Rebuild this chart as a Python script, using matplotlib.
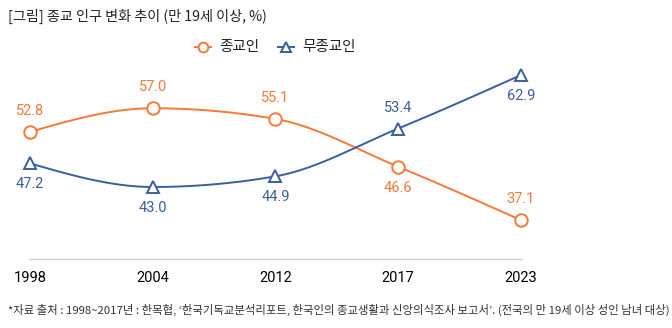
import numpy as np
import matplotlib
matplotlib.use("Agg")
import matplotlib.pyplot as plt

plt.rcParams['font.family'] = ['Noto Sans CJK KR', 'DejaVu Sans']

# --- DATA ---
years = ["1998", "2004", "2012", "2017", "2023"]
religious = [52.8, 57.0, 55.1, 46.6, 37.1]
non_religious = [47.2, 43.0, 44.9, 53.4, 62.9]
# label position: 1 = above point, -1 = below
religious_side = [1, 1, 1, -1, 1]
non_religious_side = [-1, -1, -1, 1, -1]

ORANGE = "#F57A38"
BLUE = "#3A5E9F"


def monotone_curve(x, y, n=40):
    """Monotone cubic (Fritsch-Carlson) like d3 curveMonotoneX."""
    x = np.asarray(x, float)
    y = np.asarray(y, float)
    h = np.diff(x)
    s = np.diff(y) / h
    m = np.zeros_like(y)
    for i in range(1, len(y) - 1):
        if s[i - 1] * s[i] <= 0:
            m[i] = 0
        else:
            p = (s[i - 1] * h[i] + s[i] * h[i - 1]) / (h[i - 1] + h[i])
            m[i] = np.sign(s[i - 1]) * min(abs(s[i - 1]), abs(s[i]), 0.5 * abs(p)) * 2
    m[0] = (3 * s[0] - m[1]) / 2 if len(y) > 2 else s[0]
    m[-1] = (3 * s[-1] - m[-2]) / 2 if len(y) > 2 else s[-1]
    xs, ys = [], []
    for i in range(len(h)):
        t = np.linspace(0, 1, n)
        h00 = 2 * t**3 - 3 * t**2 + 1
        h10 = t**3 - 2 * t**2 + t
        h01 = -2 * t**3 + 3 * t**2
        h11 = t**3 - t**2
        xs.append(x[i] + t * h[i])
        ys.append(h00 * y[i] + h10 * h[i] * m[i] + h01 * y[i + 1] + h11 * h[i] * m[i + 1])
    return np.concatenate(xs), np.concatenate(ys)


fig = plt.figure(figsize=(6.72, 3.28), dpi=100)
W, H = 672, 328
ax = fig.add_axes([30 / W, 1 - 259 / H, (521 - 30) / W, (259 - 70) / H])
ax.set_xlim(0, len(years) - 1)
ax.set_ylim(30.2, 63.8)

xpos = np.arange(len(years))
for vals, sides, color, marker, ms in [
    (religious, religious_side, ORANGE, "o", 9),
    (non_religious, non_religious_side, BLUE, "^", 9),
]:
    cx, cy = monotone_curve(xpos, vals)
    ax.plot(cx, cy, color=color, lw=1.4, clip_on=False, zorder=2)
    ax.plot(xpos, vals, ls="none", marker=marker, ms=ms, mfc="white",
            mec=color, mew=1.4, clip_on=False, zorder=3)
    for xi, v, sd in zip(xpos, vals, sides):
        ax.annotate(f"{v:.1f}", (xi, v), xytext=(0, 15 * sd), textcoords="offset points",
                    ha="center", va="center", color=color, fontsize=10.5,
                    family=["Roboto", "DejaVu Sans"])

for sp in ["top", "right", "left"]:
    ax.spines[sp].set_visible(False)
ax.spines["bottom"].set_color("#cccccc")
ax.spines["bottom"].set_linewidth(1)
ax.set_yticks([])
ax.set_xticks(xpos)
ax.set_xticklabels(years, fontsize=10.5, family=["Roboto", "DejaVu Sans"])
ax.tick_params(axis="x", length=0, pad=9)

# legend drawn by hand in figure coordinates
for x0, color, marker, label in [(203, ORANGE, "o", "종교인"), (286, BLUE, "^", "무종교인")]:
    fig.lines.append(plt.Line2D([(x0 - 8) / W, (x0 + 8) / W], [1 - 47 / H] * 2,
                                transform=fig.transFigure, color=color, lw=1.4))
    fig.lines.append(plt.Line2D([x0 / W], [1 - 47 / H], transform=fig.transFigure,
                                marker=marker, ms=7, mfc="white", mec=color, mew=1.4, ls="none"))
    fig.text((x0 + 16) / W, 1 - 47 / H, label, fontsize=10.5, va="center", ha="left",
             color="#222222")

fig.text(8 / W, 1 - 16 / H, "[그림] 종교 인구 변화 추이 (만 19세 이상, %)", fontsize=10.2,
         va="center", ha="left", color="#222222")
fig.text(8 / W, 1 - 310 / H,
         "*자료 출처 : 1998~2017년 : 한목협, ‘한국기독교분석리포트, 한국인의 종교생활과 신앙의식조사 보고서’. (전국의 만 19세 이상 성인 남녀 대상)",
         fontsize=8.2, va="center", ha="left", color="#333333")

fig.savefig("out.png", dpi=100)
